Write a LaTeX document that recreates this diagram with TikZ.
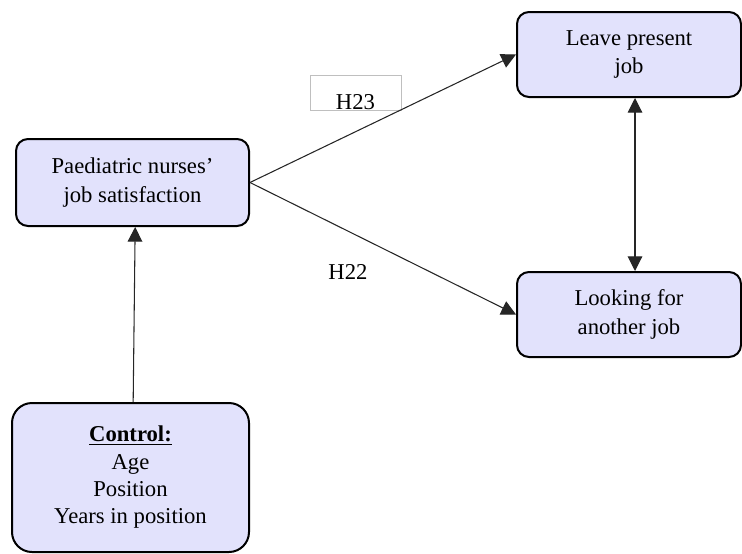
\documentclass[tikz,border=0pt]{standalone}
\usepackage{fontspec}
\setmainfont{Liberation Serif}
\usetikzlibrary{arrows.meta}

\definecolor{boxfill}{RGB}{226,226,252}

\tikzset{
  factor/.style={draw=black, line width=1.5pt, fill=boxfill, rounded corners=9pt,
    align=center, inner sep=0pt, font=\fontsize{17}{21.5}\selectfont},
  link/.style={draw=black!85, line width=0.8pt, -{Triangle[length=11pt,width=11pt]}},
  hyp/.style={font=\fontsize{17}{21.5}\selectfont, inner sep=0pt}
}

\begin{document}
\begin{tikzpicture}[x=0.75pt,y=-0.75pt]
      \useasboundingbox (0,0) rectangle (742,553);

      \node[factor, minimum width=174.75pt, minimum height=65.25pt] (sat) at (132.5,182.5) {Paediatric nurses’\\job satisfaction};
      \node[factor, minimum width=168pt, minimum height=63.75pt] (leave) at (629,54.5) {Leave present\\job};
      \node[factor, minimum width=168pt, minimum height=63.75pt] (look) at (629,314.5) {Looking for\\another job};
      \node[factor, rounded corners=15pt, minimum width=177.75pt, minimum height=111.75pt,
        font=\fontsize{17}{20.5}\selectfont] (ctrl) at (130.5,477.5)
        {\underline{\textbf{Control:}}\\Age\\Position\\Years in position};

      \node[hyp, draw=black!25, line width=0.6pt, minimum width=68.25pt, minimum height=26.25pt,
        text height=24.75pt, text depth=0pt] (h23) at (355.5,92.5) {H23};
      \node[hyp] (h22) at (348,272) {H22};

      \draw[link] (sat.east) -- (leave.west);
      \draw[link] (sat.east) -- (look.west);
      \draw[link] ([xshift=2pt]ctrl.north) -- ([xshift=2pt]sat.south);
      \draw[link, {Triangle[length=11pt,width=11pt]}-{Triangle[length=11pt,width=11pt]}]
        ([xshift=4.5pt]leave.south) -- ([xshift=4.5pt]look.north);
\end{tikzpicture}
\end{document}
